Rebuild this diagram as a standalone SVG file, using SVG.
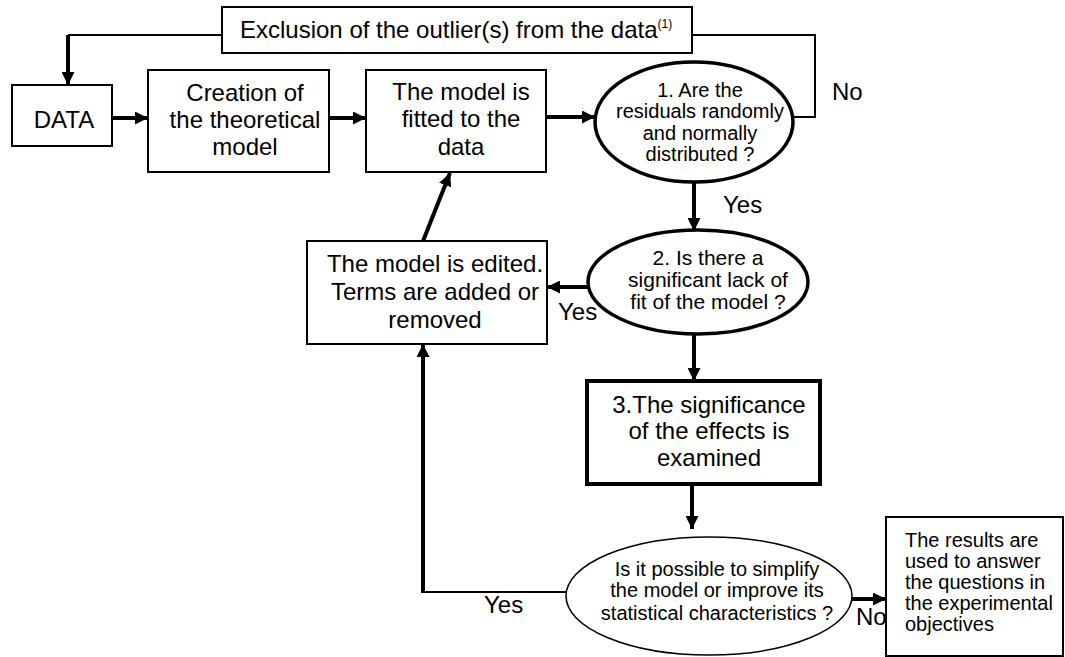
<svg xmlns="http://www.w3.org/2000/svg" width="1065" height="657" viewBox="0 0 1065 657">
<style>
  text { font-family: "Liberation Sans", Arial, sans-serif; fill: #000; }
  .big { font-size: 24px; }
  .mid { font-size: 20px; }
  .q2 { font-size: 21px; }
  .c { text-anchor: middle; }
  .box { fill: #fff; stroke: #000; stroke-width: 2; }
  .boxb { fill: #fff; stroke: #000; stroke-width: 4; }
  .ell { fill: #fff; stroke: #000; stroke-width: 3.5; }
  .ellt { fill: #fff; stroke: #000; stroke-width: 1.5; }
  .thick { fill: none; stroke: #000; stroke-width: 4; }
  .thin { fill: none; stroke: #000; stroke-width: 2; }
</style>
<defs>
  <marker id="ah" markerUnits="userSpaceOnUse" markerWidth="14" markerHeight="13" refX="13" refY="6.5" orient="auto">
    <path d="M0,0 L13,6.5 L0,13 z" fill="#000"/>
  </marker>
</defs>
<rect width="1065" height="657" fill="#fff"/>

<g id="connectors">
  <path class="thin" d="M222,35 H68"/>
  <path class="thick" d="M68,35 V85" marker-end="url(#ah)"/>
  <path class="thick" d="M112,118 H148" marker-end="url(#ah)"/>
  <path class="thick" d="M329,118 H366" marker-end="url(#ah)"/>
  <path class="thick" d="M546,117 H595" marker-end="url(#ah)"/>
  <path class="thin" d="M793,117 H815 V35 H692"/>
  <path class="thick" d="M694,182 V231" marker-end="url(#ah)"/>
  <path class="thick" d="M589,287 H547" marker-end="url(#ah)"/>
  <path class="thick" d="M423,241 L450,173" marker-end="url(#ah)"/>
  <path class="thick" d="M694,334 V381" marker-end="url(#ah)"/>
  <path class="thick" d="M692,484 V529" marker-end="url(#ah)"/>
  <path class="thin" d="M566,592 H423"/>
  <path class="thick" d="M423,593 V344" marker-end="url(#ah)"/>
  <path class="thick" d="M852,599 H886" marker-end="url(#ah)"/>
  <text class="big" x="832" y="100">No</text>
  <text class="big" x="723" y="213">Yes</text>
  <text class="big" x="558" y="320">Yes</text>
  <text class="big" x="484" y="613">Yes</text>
  <text class="big" x="856" y="625">No</text>
</g>

<g id="exclusion">
  <rect class="box" x="222" y="7" width="470" height="46"/>
  <text class="big" x="240" y="38">Exclusion of the outlier(s) from the data<tspan font-size="12" dy="-10">(1)</tspan></text>
</g>

<g id="data">
  <rect class="box" x="12" y="85" width="100" height="61"/>
  <text class="big c" x="64" y="128">DATA</text>
</g>

<g id="creation">
  <rect class="box" x="148" y="70" width="181" height="102"/>
  <text class="big c" x="245" y="101">Creation of</text>
  <text class="big c" x="245" y="128">the theoretical</text>
  <text class="big c" x="245" y="155">model</text>
</g>

<g id="fitted">
  <rect class="box" x="366" y="70" width="180" height="102"/>
  <text class="big c" x="461" y="100">The model is</text>
  <text class="big c" x="461" y="127">fitted to the</text>
  <text class="big c" x="461" y="155">data</text>
</g>

<g id="q1">
  <ellipse class="ell" cx="694" cy="122" rx="99" ry="60"/>
  <text class="mid c" x="700" y="97">1. Are the</text>
  <text class="mid c" x="700" y="118">residuals randomly</text>
  <text class="mid c" x="700" y="140">and normally</text>
  <text class="mid c" x="700" y="161">distributed ?</text>
</g>

<g id="q2">
  <ellipse class="ell" cx="698" cy="282" rx="110" ry="52"/>
  <text class="q2 c" x="708" y="265">2. Is there a</text>
  <text class="q2 c" x="708" y="287">significant lack of</text>
  <text class="q2 c" x="708" y="309">fit of the model ?</text>
</g>

<g id="edited">
  <rect class="box" x="307" y="241" width="240" height="103"/>
  <text class="big c" x="435" y="272">The model is edited.</text>
  <text class="big c" x="435" y="300">Terms are added or</text>
  <text class="big c" x="435" y="328">removed</text>
</g>

<g id="effects">
  <rect class="boxb" x="587" y="381" width="233" height="103"/>
  <text class="big c" x="709" y="413">3.The significance</text>
  <text class="big c" x="709" y="439">of the effects is</text>
  <text class="big c" x="709" y="466">examined</text>
</g>

<g id="q3">
  <ellipse class="ellt" cx="709" cy="596" rx="143" ry="59"/>
  <text class="mid c" x="717" y="576">Is it possible to simplify</text>
  <text class="mid c" x="717" y="597">the model or improve its</text>
  <text class="mid c" x="717" y="620">statistical characteristics ?</text>
</g>

<g id="results">
  <rect class="box" x="886" y="517" width="177" height="139"/>
  <text class="mid" x="905" y="547">The results are</text>
  <text class="mid" x="905" y="568">used to answer</text>
  <text class="mid" x="905" y="589">the questions in</text>
  <text class="mid" x="905" y="610">the experimental</text>
  <text class="mid" x="905" y="631">objectives</text>
</g>
</svg>
